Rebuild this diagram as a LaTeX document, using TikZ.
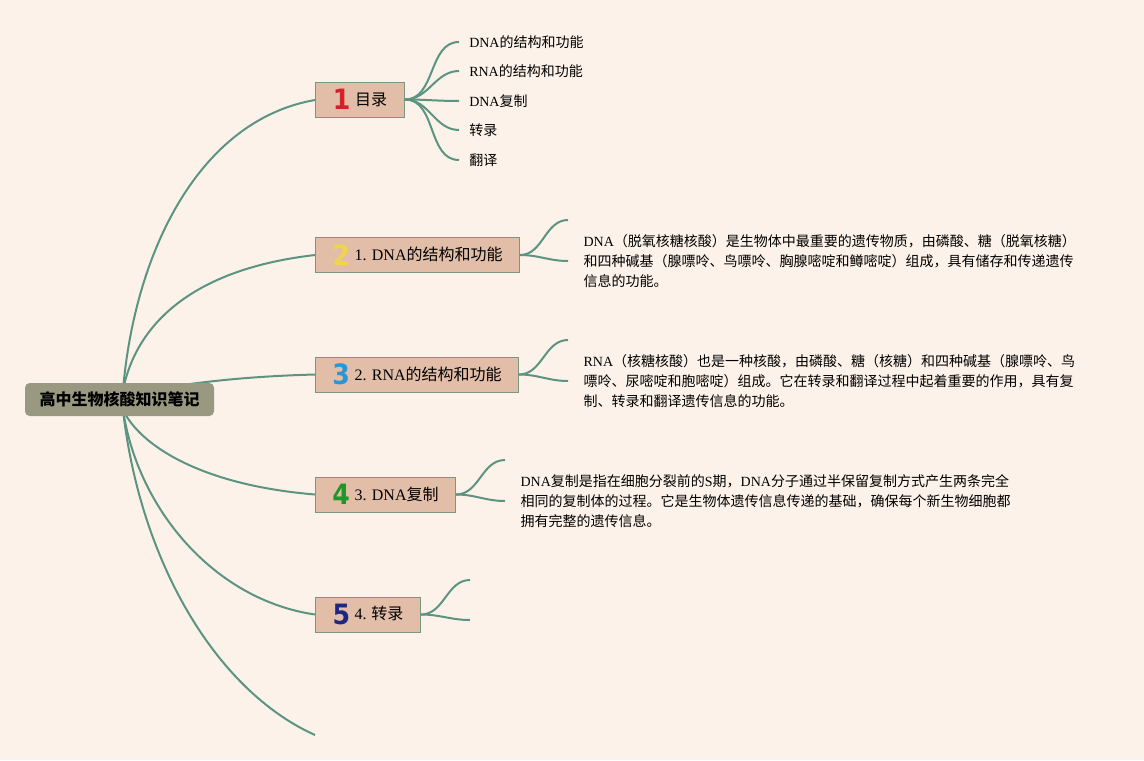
\documentclass[tikz,border=0pt]{standalone}
\usepackage{fontspec}
\usepackage{graphicx}
\setmainfont{Noto Sans CJK SC}
\newfontfamily\latf{Liberation Serif}
\newfontfamily\numf{DejaVu Sans}
\newcommand\lat[1]{{\latf #1}}
\newcommand\dig[2]{\raisebox{-3.5pt}{\textcolor{#1}{\numf\bfseries\fontsize{21}{21}\selectfont\scalebox{0.9}[1]{#2}}}\hspace{3.5pt}}
\usetikzlibrary{calc}
\definecolor{bgc}{RGB}{253,242,233}
\definecolor{boxfill}{RGB}{226,190,168}
\definecolor{boxline}{RGB}{125,150,130}
\definecolor{linkc}{RGB}{92,148,130}
\definecolor{rootfill}{RGB}{152,153,128}
\definecolor{d1}{RGB}{214,30,45}
\definecolor{d2}{RGB}{240,214,70}
\definecolor{d3}{RGB}{40,150,215}
\definecolor{d4}{RGB}{30,150,40}
\definecolor{d5}{RGB}{30,40,130}
\tikzset{
  rootbox/.style={fill=rootfill, rounded corners=3.5pt, minimum width=141.75pt, minimum height=24.75pt, inner sep=0pt, font=\bfseries\fontsize{12}{14}\selectfont},
  topicbox/.style={draw=boxline, fill=boxfill, line width=0.75pt, minimum height=26.25pt, inner sep=0pt, anchor=west, font=\fontsize{12}{14}\selectfont},
  itemtext/.style={anchor=west, inner xsep=7.5pt, inner ysep=0pt, font=\fontsize{10.5}{13}\selectfont},
  paratext/.style={anchor=west, align=left, inner xsep=11.5pt, inner ysep=0pt, font=\fontsize{10.5}{15}\selectfont},
  link/.style={draw=linkc, line width=1.5pt},
}
\begin{document}
\begin{tikzpicture}[x=0.75pt,y=-0.75pt]
\useasboundingbox (0,0) rectangle (1144,760);
\fill[bgc] (0,0) rectangle (1144,760);

% free ends
\coordinate (c2) at (568,220);
\coordinate (c3) at (568,340);
\coordinate (c4) at (505,460);
\coordinate (c5u) at (470,580);
\coordinate (c5l) at (470,620);
\coordinate (c6) at (315,735);

% topic boxes
\node[topicbox, minimum width=66.75pt] (b1) at (315,99.5) {\dig{d1}{1}目录};
\node[topicbox, minimum width=153pt] (b2) at (315,255) {\dig{d2}{2}\lat{1. DNA}的结构和功能};
\node[topicbox, minimum width=152.25pt] (b3) at (315,374.5) {\dig{d3}{3}\lat{2. RNA}的结构和功能};
\node[topicbox, minimum width=105pt] (b4) at (315,494.5) {\dig{d4}{4}\lat{3. DNA}复制};
\node[topicbox, minimum width=78.75pt] (b5) at (315,614.5) {\dig{d5}{5}\lat{4.} 转录};

% list items
\node[itemtext] (i1) at (459,42) {\lat{DNA}的结构和功能};
\node[itemtext] (i2) at (459,71) {\lat{RNA}的结构和功能};
\node[itemtext] (i3) at (459,101) {\lat{DNA}复制};
\node[itemtext] (i4) at (459,130) {转录};
\node[itemtext] (i5) at (459,160) {翻译};

% paragraphs
\node[paratext] (p2) at (568,261) {\lat{DNA}（脱氧核糖核酸）是生物体中最重要的遗传物质，由磷酸、糖（脱氧核糖）\\和四种碱基（腺嘌呤、鸟嘌呤、胸腺嘧啶和鳟嘧啶）组成，具有储存和传递遗传\\信息的功能。};
\node[paratext] (p3) at (568,381) {\lat{RNA}（核糖核酸）也是一种核酸，由磷酸、糖（核糖）和四种碱基（腺嘌呤、鸟\\嘌呤、尿嘧啶和胞嘧啶）组成。它在转录和翻译过程中起着重要的作用，具有复\\制、转录和翻译遗传信息的功能。};
\node[paratext] (p4) at (505,501) {\lat{DNA}复制是指在细胞分裂前的\lat{S}期，\lat{DNA}分子通过半保留复制方式产生两条完全\\相同的复制体的过程。它是生物体遗传信息传递的基础，确保每个新生物细胞都\\拥有完整的遗传信息。};

% root connectors (drawn before root so root covers them)
\draw[link] ($(b1.west)+(0,0.5)$) .. controls (200,120) and (135,250) .. (123,390);
\draw[link] (b2.west) .. controls (185,270) and (135,330) .. (123,390);
\draw[link] (b3.west) .. controls (260,376) and (210,380) .. (150,390);
\draw[link] (b4.west) .. controls (200,485) and (140,445) .. (123,410);
\draw[link] (b5.west) .. controls (215,600) and (138,510) .. (123,410);
\draw[link] (c6) .. controls (215,690) and (140,560) .. (123,410);

\node[rootbox] (root) at (119.5,399.5) {高中生物核酸知识笔记};

% branch connectors
\foreach \i in {1,...,5} {\draw[link] (b1.east) to[out=0,in=180] (i\i.west);}
\draw[link] (b2.east) to[out=0,in=180] (c2);
\draw[link] (b2.east) to[out=0,in=180] (p2.west);
\draw[link] (b3.east) to[out=0,in=180] (c3);
\draw[link] (b3.east) to[out=0,in=180] (p3.west);
\draw[link] (b4.east) to[out=0,in=180] (c4);
\draw[link] (b4.east) to[out=0,in=180] (p4.west);
\draw[link] (b5.east) to[out=0,in=180] (c5u);
\draw[link] (b5.east) to[out=0,in=180] (c5l);
\end{tikzpicture}
\end{document}
